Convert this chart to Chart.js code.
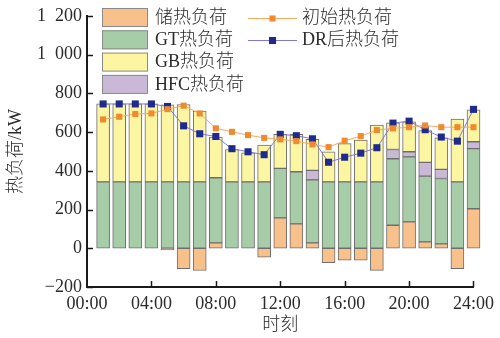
<!DOCTYPE html>
<html>
<head>
<meta charset="utf-8">
<script src="https://cdn.jsdelivr.net/npm/chart.js@4/dist/chart.umd.min.js"></script>
<style>
  html, body { margin: 0; padding: 0; background: #fff; }
  #c { display: block; }
</style>
</head>
<body>
<canvas id="c" width="500" height="338"></canvas>
<script>
// Hour of day for each bar / point (1..24)
const hours = [1,2,3,4,5,6,7,8,9,10,11,12,13,14,15,16,17,18,19,20,21,22,23,24];

// Heat load components, kW
const storageLoad = [null,null,null,null,-8,-105,-115,28,null,null,-46,157,126,28,-75,-62,-62,-114,119,136,33,23,-105,204];
const gtLoad      = [343,343,343,343,343,343,343,336,343,343,343,255,269,325,343,343,343,343,343,336,339,337,343,310];
const hfcLoad     = [null,null,null,null,null,null,null,null,null,null,null,null,null,49,null,null,null,null,48,26,71,47,null,36];
const gbLoad      = [402,402,402,402,397,399,365,210,167,150,189,176,193,160,155,197,215,293,138,155,165,163,324,165];

// Total heat load before and after demand response, kW
const initialLoad = [665,679,693,696,718,736,696,619,601,584,570,562,553,536,522,555,579,610,619,625,634,625,625,625];
const drLoad      = [745,745,745,745,732,632,591,577,514,498,483,588,581,565,444,470,491,519,646,656,612,574,553,717];

// Axis ticks
const xTicks = [0,4,8,12,16,20,24];
const yTicks = [-200,0,200,400,600,800,1000,1200];

const SERIF = '"Liberation Serif", "Noto Sans CJK SC", serif';
const TEXT = '#2b2b2b';

const pts = arr => hours.map((h, i) => ({ x: h, y: arr[i] }));

const barStyle = {
  type: 'bar',
  barThickness: 13,
  borderWidth: 1,
  borderColor: '#6e6e6e',
  borderSkipped: false,
  clip: false,
  stack: 'heat',
  order: 1
};

const data = {
  datasets: [
    Object.assign({ label: '储热负荷', data: pts(storageLoad), backgroundColor: '#F8C18C' }, barStyle),
    Object.assign({ label: 'GT热负荷', data: pts(gtLoad), backgroundColor: '#A6CDA8' }, barStyle),
    Object.assign({ label: 'HFC热负荷', data: pts(hfcLoad), backgroundColor: '#CAB9D6' }, barStyle),
    Object.assign({ label: 'GB热负荷', data: pts(gbLoad), backgroundColor: '#FCF6A2' }, barStyle),
    {
      type: 'line', label: '初始热负荷', data: pts(initialLoad), stack: 'init', order: 0,
      borderColor: '#F6A865', borderWidth: 1, backgroundColor: '#EF8A2E',
      pointStyle: 'rect', pointRadius: 4.3, pointBorderWidth: 0, pointBackgroundColor: '#EF8A2E',
      clip: false
    },
    {
      type: 'line', label: 'DR后热负荷', data: pts(drLoad), stack: 'dr', order: 0,
      borderColor: '#8079DA', borderWidth: 1, backgroundColor: '#1F2A8C',
      pointStyle: 'rect', pointRadius: 5, pointBorderWidth: 0, pointBackgroundColor: '#1F2A8C',
      clip: false
    }
  ]
};

// Inward tick marks on both axes
const tickMarks = {
  id: 'tickMarks',
  afterDraw(chart) {
    const { ctx, scales: { x, y }, chartArea } = chart;
    ctx.save();
    ctx.strokeStyle = '#1a1a1a';
    ctx.lineWidth = 1.5;
    ctx.beginPath();
    yTicks.forEach(v => {
      const py = Math.round(y.getPixelForValue(v)) + 0.5;
      ctx.moveTo(chartArea.left, py);
      ctx.lineTo(chartArea.left + 6, py);
    });
    xTicks.forEach(v => {
      if (v === 0) return;
      const px = Math.round(x.getPixelForValue(v)) + 0.5;
      ctx.moveTo(px, chartArea.bottom);
      ctx.lineTo(px, chartArea.bottom - 6);
    });
    ctx.stroke();
    ctx.restore();
  }
};

// Two-column legend: bar series on the left, line series on the right
const legendBlock = {
  id: 'legendBlock',
  afterDraw(chart) {
    const { ctx } = chart;
    const ds = chart.data.datasets;
    const barOrder = [0, 1, 3, 2];
    ctx.save();
    ctx.font = '300 18px ' + SERIF;
    ctx.textBaseline = 'middle';
    ctx.fillStyle = TEXT;
    barOrder.forEach((di, row) => {
      const top = 8 + row * 22.3;
      ctx.fillStyle = ds[di].backgroundColor;
      ctx.fillRect(102, top, 46, 19);
      ctx.strokeStyle = '#8a8a8a';
      ctx.lineWidth = 1;
      ctx.strokeRect(102.5, top + 0.5, 45, 18);
      ctx.fillStyle = TEXT;
      ctx.fillText(ds[di].label, 155, top + 10);
    });
    [4, 5].forEach((di, row) => {
      const cy = Math.round(18 + row * 22.3) + 0.5;
      ctx.strokeStyle = ds[di].borderColor;
      ctx.lineWidth = 1;
      ctx.beginPath();
      ctx.moveTo(248, cy);
      ctx.lineTo(297, cy);
      ctx.stroke();
      const s = ds[di].pointRadius * Math.SQRT2;
      ctx.fillStyle = ds[di].pointBackgroundColor;
      ctx.fillRect(272.5 - s / 2, cy - s / 2, s, s);
      ctx.fillStyle = TEXT;
      ctx.fillText(ds[di].label, 302, cy);
    });
    ctx.restore();
  }
};

const fmtY = v => {
  if (v < 0) return '\u2212' + Math.abs(v);
  if (v >= 1000) return Math.floor(v / 1000) + '\u2002' + String(v % 1000).padStart(3, '0');
  return String(v);
};

new Chart(document.getElementById('c'), {
  type: 'bar',
  data,
  options: {
    responsive: false,
    devicePixelRatio: 1,
    animation: false,
    layout: { padding: { left: 0, right: 23, top: 15, bottom: 0 } },
    plugins: { legend: { display: false }, tooltip: { enabled: false } },
    scales: {
      x: {
        type: 'linear',
        min: 0, max: 24,
        offset: false,
        stacked: true,
        afterFit: s => { s.height = 51; },
        afterBuildTicks: s => { s.ticks = xTicks.map(v => ({ value: v })); },
        grid: { display: false, drawTicks: false },
        border: { display: true, color: '#1a1a1a', width: 2 },
        ticks: {
          color: TEXT, padding: 6, maxRotation: 0, autoSkip: false,
          font: { family: SERIF, size: 18 },
          callback: v => String(v).padStart(2, '0') + ':00'
        },
        title: {
          display: true, text: '时刻', color: TEXT,
          font: { family: SERIF, size: 18, weight: 300, lineHeight: 1.2 },
          padding: { top: 0, bottom: 2 }
        }
      },
      y: {
        min: -200, max: 1200,
        stacked: true,
        afterFit: s => { s.width = 87; },
        afterBuildTicks: s => { s.ticks = yTicks.map(v => ({ value: v })); },
        grid: { display: false, drawTicks: false },
        border: { display: true, color: '#1a1a1a', width: 2 },
        ticks: {
          color: TEXT, padding: 5, autoSkip: false,
          font: { family: SERIF, size: 18 },
          callback: fmtY
        },
        title: {
          display: true, text: '热负荷/kW', color: TEXT,
          font: { family: SERIF, size: 18, weight: 300, lineHeight: 1.2 },
          padding: { top: 5, bottom: 0 }
        }
      }
    }
  },
  plugins: [tickMarks, legendBlock]
});
</script>
</body>
</html>
